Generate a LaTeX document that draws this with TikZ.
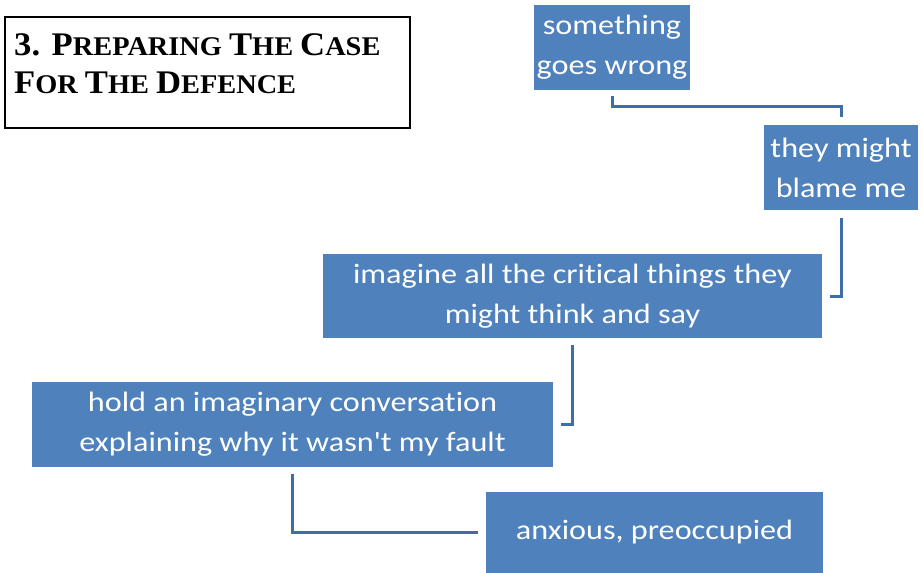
\documentclass[tikz,border=0pt]{standalone}
\usepackage{fontspec}
\setmainfont{Carlito}
\newfontfamily\boxfont{Carlito}[FakeStretch=1.15,Ligatures=NoCommon]
\newfontfamily\titlefont{Liberation Serif}[FakeStretch=1.05]
\definecolor{boxblue}{HTML}{4F81BD}
\definecolor{lineblue}{HTML}{3F6DA6}
\newcommand\BigC[1]{{\fontsize{33}{38}\selectfont #1}}
\newcommand\SmC[1]{{\fontsize{27}{38}\selectfont #1}}
\begin{document}
\begin{tikzpicture}[x=1pt,y=-1pt,
  box/.style={fill=boxblue, text=white, align=center, inner sep=0pt,
    font=\boxfont\fontsize{28}{40}\selectfont},
  conn/.style={draw=lineblue, line width=3pt},
  titletext/.style={anchor=base west, align=left, inner sep=0pt,
    font=\titlefont\bfseries\fontsize{27}{38}\selectfont}]
\useasboundingbox (0,0) rectangle (924,573);
\draw[line width=2pt] (5,17) rectangle (410,128);
\node[titletext] (title) at (14,93) {\BigC{3. P}\SmC{REPARING} \BigC{T}\SmC{HE} \BigC{C}\SmC{ASE}\\
\BigC{F}\SmC{OR} \BigC{T}\SmC{HE} \BigC{D}\SmC{EFENCE}};
\node[box, minimum width=156pt, minimum height=85pt] (b1) at (612,47.5) {something\\goes wrong};
\node[box, minimum width=154pt, minimum height=85pt] (b2) at (841,167.5) {they might\\blame me};
\node[box, minimum width=499pt, minimum height=84pt] (b3) at (572.5,296) {imagine all the critical things they\\might think and say};
\node[box, minimum width=521pt, minimum height=85pt] (b4) at (292.5,424.5) {hold an imaginary conversation\\explaining why it wasn't my fault};
\node[box, minimum width=337pt, minimum height=81pt] (b5) at (654.5,532.5) {anxious, preoccupied};
\draw[conn] ([yshift=-6pt]b1.south) -- ++(0,10) -| ([yshift=8pt]b2.north);
\draw[conn] ([yshift=-8pt]b2.south) |- ([xshift=8pt]b3.east);
\draw[conn] ([yshift=-7pt]b3.south) |- ([xshift=8pt]b4.east);
\draw[conn] ([yshift=-7pt]b4.south) |- ([xshift=-8pt]b5.west);
\end{tikzpicture}
\end{document}
